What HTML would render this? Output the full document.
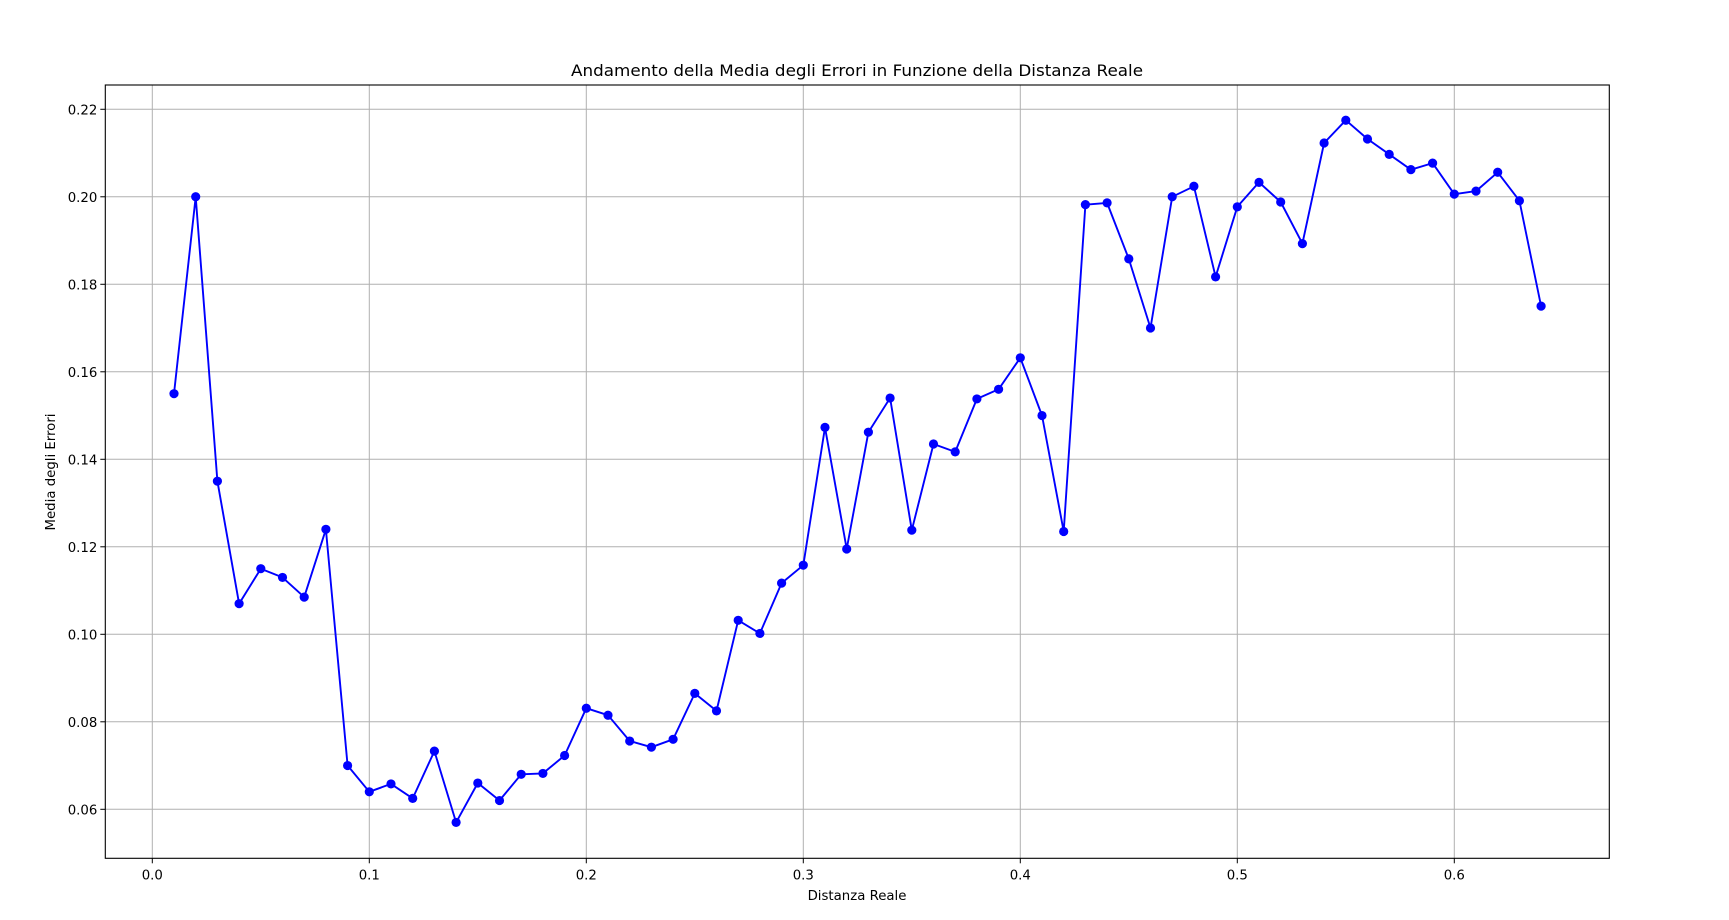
<!DOCTYPE html>
<html><head><meta charset="utf-8"><style>
html,body{margin:0;padding:0;background:#fff;}
svg{display:block;font-family:"DejaVu Sans","Liberation Sans",sans-serif;}
</style></head><body>
<svg id="chart" width="1729" height="920" viewBox="0 0 1729 920" xmlns="http://www.w3.org/2000/svg">
<rect width="1729" height="920" fill="#fff"/>
<g id="grid"></g>
<g id="series"></g>
<rect x="105.3" y="85" width="1504" height="773.3" fill="none" stroke="#000" stroke-width="1.1"/>
<g id="ticks" font-size="13.3" fill="#000"></g>
<text x="857" y="76" text-anchor="middle" font-size="16" textLength="572" lengthAdjust="spacingAndGlyphs">Andamento della Media degli Errori in Funzione della Distanza Reale</text>
<text x="857" y="900" text-anchor="middle" font-size="13.3">Distanza Reale</text>
<text transform="translate(55,472) rotate(-90)" text-anchor="middle" font-size="13.3">Media degli Errori</text>
</svg>
<script>
const xValues=[0.01,0.02,0.03,0.04,0.05,0.06,0.07,0.08,0.09,0.10,0.11,0.12,0.13,0.14,0.15,0.16,0.17,0.18,0.19,0.20,0.21,0.22,0.23,0.24,0.25,0.26,0.27,0.28,0.29,0.30,0.31,0.32,0.33,0.34,0.35,0.36,0.37,0.38,0.39,0.40,0.41,0.42,0.43,0.44,0.45,0.46,0.47,0.48,0.49,0.50,0.51,0.52,0.53,0.54,0.55,0.56,0.57,0.58,0.59,0.60,0.61,0.62,0.63,0.64];
const yValues=[0.155,0.200,0.135,0.107,0.115,0.113,0.1085,0.124,0.070,0.064,0.0658,0.0625,0.0733,0.057,0.066,0.062,0.068,0.0682,0.0723,0.0831,0.0815,0.0756,0.0742,0.076,0.0865,0.0825,0.1032,0.1002,0.1117,0.1158,0.1473,0.1195,0.1462,0.154,0.1238,0.1435,0.1417,0.1538,0.156,0.1632,0.150,0.1235,0.1982,0.1986,0.1858,0.170,0.200,0.2024,0.1817,0.1977,0.2033,0.1988,0.1893,0.2123,0.2175,0.2132,0.2097,0.2062,0.2077,0.2006,0.2013,0.2056,0.1991,0.175];
const xTicks=[0.0,0.1,0.2,0.3,0.4,0.5,0.6];
const xTickLabels=["0.0","0.1","0.2","0.3","0.4","0.5","0.6"];
const yTicks=[0.06,0.08,0.10,0.12,0.14,0.16,0.18,0.20,0.22];
const yTickLabels=["0.06","0.08","0.10","0.12","0.14","0.16","0.18","0.20","0.22"];

const L=105.3,R=1609.3,T=85,B=858.3;
const xMin=-0.02166,xMax=0.67143,yMin=0.0488,yMax=0.22555;
const sx=v=>L+(v-xMin)/(xMax-xMin)*(R-L);
const sy=v=>B-(v-yMin)/(yMax-yMin)*(B-T);
const NS="http://www.w3.org/2000/svg";
function mk(tag,attrs,parent){const e=document.createElementNS(NS,tag);for(const k in attrs)e.setAttribute(k,attrs[k]);parent.appendChild(e);return e;}
const grid=document.getElementById('grid'),ticks=document.getElementById('ticks'),series=document.getElementById('series');
xTicks.forEach((t,i)=>{
  const x=sx(t);
  const g=mk('line',{x1:x,x2:x,y1:T,y2:B,stroke:'#b0b0b0','stroke-width':1},grid);
  
  
  const tk=mk('line',{x1:x,x2:x,y1:B,y2:B+5,stroke:'#000','stroke-width':1},ticks);
  
  
  const lb=mk('text',{x:x,y:B+21,'text-anchor':'middle'},ticks);
  lb.textContent=xTickLabels[i];
  
  
});
yTicks.forEach((t,i)=>{
  const y=sy(t);
  const g=mk('line',{x1:L,x2:R,y1:y,y2:y,stroke:'#b0b0b0','stroke-width':1},grid);
  
  
  const tk=mk('line',{x1:L-5,x2:L,y1:y,y2:y,stroke:'#000','stroke-width':1},ticks);
  
  
  const lb=mk('text',{x:L-8,y:y+5,'text-anchor':'end'},ticks);
  lb.textContent=yTickLabels[i];
  
  
});
const pts=xValues.map((x,i)=>sx(x).toFixed(1)+','+sy(yValues[i]).toFixed(1)).join(' ');
const line=mk('polyline',{points:pts,fill:'none',stroke:'#0000ff','stroke-width':1.9,'stroke-linejoin':'round'},series);


xValues.forEach((x,i)=>{
  const c=mk('circle',{cx:sx(x),cy:sy(yValues[i]),r:4.6,fill:'#0000ff'},series);
  
  
});
</script>
</body></html>
